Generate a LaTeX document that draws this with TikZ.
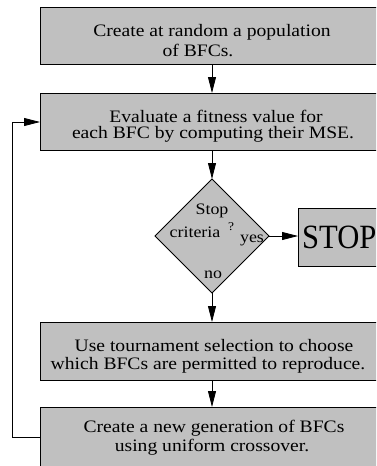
\documentclass[tikz,border=0pt]{standalone}
\usepackage{fontspec}
\setmainfont{Liberation Serif}[FakeStretch=1.12]
\newfontfamily\stopfont{Liberation Serif}[FakeStretch=0.9]
\usetikzlibrary{arrows.meta,shapes.geometric}
\definecolor{boxgray}{RGB}{192,192,192}
\tikzset{
  box/.style={draw=black,fill=boxgray,line width=0.8pt,anchor=north west,inner sep=0pt,outer sep=0pt},
  txt/.style={font=\fontsize{17.5}{19}\selectfont,inner sep=0pt},
  dtxt/.style={font=\fontsize{16}{18}\selectfont,inner sep=0pt},
  conn/.style={line width=0.8pt,-{Triangle[length=16pt,width=8pt]}},
}
\begin{document}
\begin{tikzpicture}[x=1pt,y=-1pt]
\useasboundingbox (0,0) rectangle (376,466);
\clip (0,0) rectangle (376,466);
% boxes
\node[box,minimum width=344pt,minimum height=57pt] (b1) at (40,7) {};
\node[box,minimum width=344pt,minimum height=57pt] (b2) at (40,93) {};
\node[diamond,draw=black,fill=boxgray,line width=0.8pt,minimum width=114pt,minimum height=114pt,inner sep=0pt,outer sep=0pt] (d) at (212,236) {};
\node[box,minimum width=90pt,minimum height=58pt] (stop) at (298,208) {};
\node[box,minimum width=344pt,minimum height=58pt] (b3) at (40,322) {};
\node[box,minimum width=344pt,minimum height=70pt] (b4) at (40,407) {};
% texts
\node[txt] (t1a) at (212,32) {Create at random a population};
\node[txt] (t1b) at (198,50) {of BFCs.};
\node[txt] (t2a) at (216,116) {Evaluate a fitness value for};
\node[txt] (t2b) at (213,134) {each BFC by computing their MSE.};
\node[dtxt] (ds) at (212,211) {Stop};
\node[dtxt] (dc) at (195,232) {criteria};
\node[txt,font=\fontsize{12}{14}\selectfont] (dq) at (231,227) {?};
\node[dtxt] (dy) at (252,240) {yes};
\node[dtxt] (dn) at (213,275) {no};
\node[inner sep=0pt,font=\stopfont\fontsize{34}{38}\selectfont,anchor=west] (st) at (302,237) {STOP};
\node[txt] (t3a) at (214,346) {Use tournament selection to choose};
\node[txt] (t3b) at (208,365) {which BFCs are permitted to reproduce.};
\node[txt] (t4a) at (214,428) {Create a new generation of BFCs};
\node[txt] (t4b) at (212,447) {using uniform crossover.};
% connectors
\draw[conn] (b1.south -| d.north) -- (b2.north -| d.north);
\draw[conn] (b2.south -| d.north) -- (d.north);
\draw[conn] (d.east) -- (stop.west |- d.east);
\draw[conn] (d.south) -- (b3.north -| d.south);
\draw[conn] (b3.south -| d.south) -- (b4.north -| d.south);
\coordinate (fb1) at (12,437);
\coordinate (fb2) at (12,122);
\draw[conn] (b4.west |- fb1) -- (fb1) -- (fb2) -- (b2.west |- fb2);
\end{tikzpicture}
\end{document}
